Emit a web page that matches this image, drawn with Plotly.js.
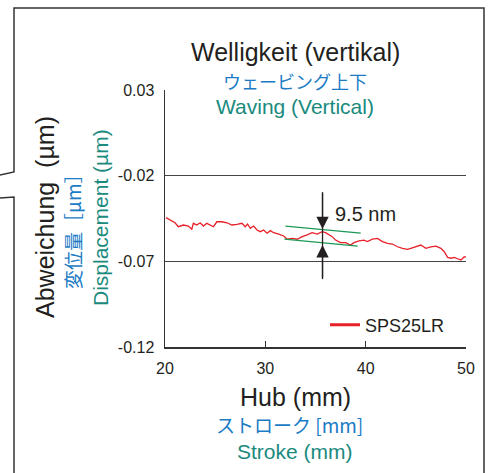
<!DOCTYPE html>
<html>
<head>
<meta charset="utf-8">
<script src="https://cdn.plot.ly/plotly-3.0.1.min.js"></script>
<style>html,body{margin:0;padding:0;background:#fff;}#chart{width:490px;height:473px;}</style>
</head>
<body>
<div id="chart"></div>
<script>
// ---- data ----
const strokeMm = [20.1,20.5,21.0,21.33,21.83,22.33,22.67,22.83,23.17,23.5,23.83,24.17,24.5,24.83,25.17,25.67,26.17,26.67,27.17,27.67,28.0,28.23,28.5,28.83,29.17,29.5,29.83,30.17,30.5,30.83,31.33,31.83,32.17,32.67,33.17,33.67,34.17,34.67,35.17,35.67,36.0,36.33,36.67,37.0,37.5,38.0,38.5,38.83,39.33,39.83,40.17,40.67,41.17,41.67,42.17,42.67,43.17,43.67,44.17,44.5,45.0,45.5,46.0,46.5,47.0,47.5,47.83,48.17,48.5,48.83,49.17,49.5,49.83,50.1];
const displacementUm = [-0.0445,-0.0459,-0.0475,-0.0498,-0.0488,-0.0494,-0.0513,-0.0478,-0.0488,-0.0475,-0.0494,-0.0478,-0.0488,-0.0498,-0.0469,-0.0469,-0.0475,-0.0488,-0.0484,-0.0478,-0.0498,-0.0482,-0.0507,-0.0494,-0.0517,-0.0527,-0.0517,-0.0536,-0.0521,-0.0533,-0.0541,-0.0552,-0.0571,-0.0566,-0.0571,-0.0556,-0.0546,-0.0533,-0.0541,-0.0527,-0.0533,-0.0546,-0.0556,-0.0576,-0.0591,-0.0591,-0.0605,-0.0591,-0.0581,-0.0576,-0.0585,-0.0571,-0.0566,-0.0585,-0.0595,-0.0599,-0.0615,-0.0624,-0.0630,-0.0624,-0.0615,-0.0605,-0.0624,-0.0615,-0.0611,-0.0624,-0.0644,-0.0677,-0.0682,-0.0677,-0.0685,-0.0692,-0.0673,-0.0677];
const seriesName = 'SPS25LR';

const envUpperX = [32.0, 39.5];
const envUpperY = [-0.0494, -0.0535];
const envLowerX = [31.9, 39.2];
const envLowerY = [-0.0570, -0.0611];
const measureX = [35.7, 35.7];
const measureY = [-0.0296, -0.0804];      // outer ends of the dimension line
const measureTipY = [-0.0512, -0.0605];   // arrow tips
const measureLabel = '9.5 nm';
const measureLabelPos = [40.0, -0.0424];

const xTickVals = [20, 30, 40, 50];
const yTickVals = [0.03, -0.02, -0.07, -0.12];
const yTickText = ['0.03', '-0.02', '-0.07', '-0.12'];
const yGridVals = [-0.02, -0.07];
const xRange = [20, 50];
const yRange = [-0.12, 0.03];

// ---- layout helpers (pixel -> paper) ----
const W = 490, H = 473, L = 165, R = 24, T = 90, B = 126;
const pw = W - L - R, ph = H - T - B;
const px = v => (v - L) / pw;
const py = v => (H - B - v) / ph;

const BLACK = '#231f20', BLUE = '#1b7bc4', TEAL = '#1a8a7e', RED = '#e8202a';
const LAT = 'Liberation Sans, Arial, sans-serif';
const CJK = 'Noto Sans CJK JP, sans-serif';

const traces = [
  {x: strokeMm, y: displacementUm, type: 'scatter', mode: 'lines', name: seriesName,
   line: {color: RED, width: 1.3}, showlegend: false, legendgroup: 's'},
  // legend entry (thicker key line, as in the reference)
  {x: [null], y: [null], type: 'scatter', mode: 'lines', name: seriesName,
   line: {color: RED, width: 3}, showlegend: true, legendgroup: 's'},
  {x: envUpperX, y: envUpperY, type: 'scatter', mode: 'lines', yaxis: 'y2',
   line: {color: '#1a9a55', width: 1.2}, showlegend: false, hoverinfo: 'skip'},
  {x: envLowerX, y: envLowerY, type: 'scatter', mode: 'lines', yaxis: 'y2',
   line: {color: '#1a9a55', width: 1.2}, showlegend: false, hoverinfo: 'skip'},
  {x: measureX, y: measureY, type: 'scatter', mode: 'lines', yaxis: 'y2',
   line: {color: '#231f20', width: 1.3}, showlegend: false, hoverinfo: 'skip'}
];

function pathFromPx(pts) {
  return pts.map((p, i) => (i ? 'L' : 'M') + px(p[0]).toFixed(5) + ',' + py(p[1]).toFixed(5)).join(' ');
}

function label(text, x, y, family, size, color, angle) {
  return {text: text, xref: 'paper', yref: 'paper', x: px(x), y: py(y),
          xanchor: 'center', yanchor: 'middle', textangle: angle || 0,
          showarrow: false, font: {family: family, size: size, color: color}};
}

const layout = {
  width: W, height: H,
  margin: {l: L, r: R, t: T, b: B, pad: 0},
  paper_bgcolor: '#fff', plot_bgcolor: 'rgba(0,0,0,0)',
  font: {family: LAT, color: BLACK, size: 16},
  showlegend: true,
  legend: {x: px(325), y: py(325), xanchor: 'left', yanchor: 'middle',
           bgcolor: 'rgba(0,0,0,0)', borderwidth: 0,
           font: {family: LAT, size: 18, color: BLACK}},
  xaxis: {range: xRange, tickvals: xTickVals, showgrid: false, zeroline: false,
          showline: true, linecolor: '#333', linewidth: 1.5,
          ticks: 'inside', ticklen: 6, tickcolor: '#333', tickwidth: 1.2,
          tickfont: {size: 16, color: BLACK}, ticklabelstandoff: 6},
  yaxis: {range: yRange, tickvals: yTickVals, ticktext: yTickText, showgrid: false, zeroline: false,
          showline: true, linecolor: '#333', linewidth: 1.5, ticks: '',
          tickfont: {size: 16, color: BLACK}, ticklabelstandoff: 6},
  yaxis2: {range: yRange, overlaying: 'y', tickvals: yGridVals, showticklabels: false,
           showgrid: true, gridcolor: '#444', gridwidth: 1, zeroline: false, showline: false, ticks: ''},
  shapes: [
    {type: 'path', xref: 'paper', yref: 'paper', line: {color: '#333', width: 1.5},
     path: pathFromPx([[0, 175], [14, 172], [14, 8], [484, 8], [484, 480]])},
    {type: 'path', xref: 'paper', yref: 'paper', line: {color: '#333', width: 1.5},
     path: pathFromPx([[14, 480], [14, 197], [0, 198]])}
  ],
  annotations: [
    label('Welligkeit (vertikal)', 295, 52, LAT, 25, BLACK),
    label('ウェービング上下', 295, 81, CJK, 18, BLUE),
    label('Waving (Vertical)', 295, 106, LAT, 21, TEAL),

    label('Abweichung  (µm)', 45, 217, LAT, 25, BLACK, -90),
    label('変位量［µm］', 72, 226, CJK, 19, BLUE, -90),
    label('Displacement (µm)', 100, 218, LAT, 21, TEAL, -90),

    label('Hub (mm)', 295, 397, LAT, 25, BLACK),
    label('ストローク [mm]', 289, 424, CJK, 19, BLUE),
    label('Stroke (mm)', 295, 451, LAT, 21, TEAL),

    {text: measureLabel, xref: 'x', yref: 'y', x: measureLabelPos[0], y: measureLabelPos[1],
     xanchor: 'center', yanchor: 'middle',
     showarrow: false, font: {family: LAT, size: 20, color: BLACK}},
    {text: '', xref: 'x', yref: 'y', axref: 'x', ayref: 'y', x: measureX[0], y: measureTipY[0],
     ax: measureX[0], ay: measureY[0], showarrow: true, arrowhead: 2, arrowsize: 1.9, arrowwidth: 1.3, arrowcolor: BLACK},
    {text: '', xref: 'x', yref: 'y', axref: 'x', ayref: 'y', x: measureX[1], y: measureTipY[1],
     ax: measureX[1], ay: measureY[1], showarrow: true, arrowhead: 2, arrowsize: 1.9, arrowwidth: 1.3, arrowcolor: BLACK}
  ]
};

Plotly.newPlot('chart', traces, layout, {displayModeBar: false, staticPlot: true});
</script>
</body>
</html>
